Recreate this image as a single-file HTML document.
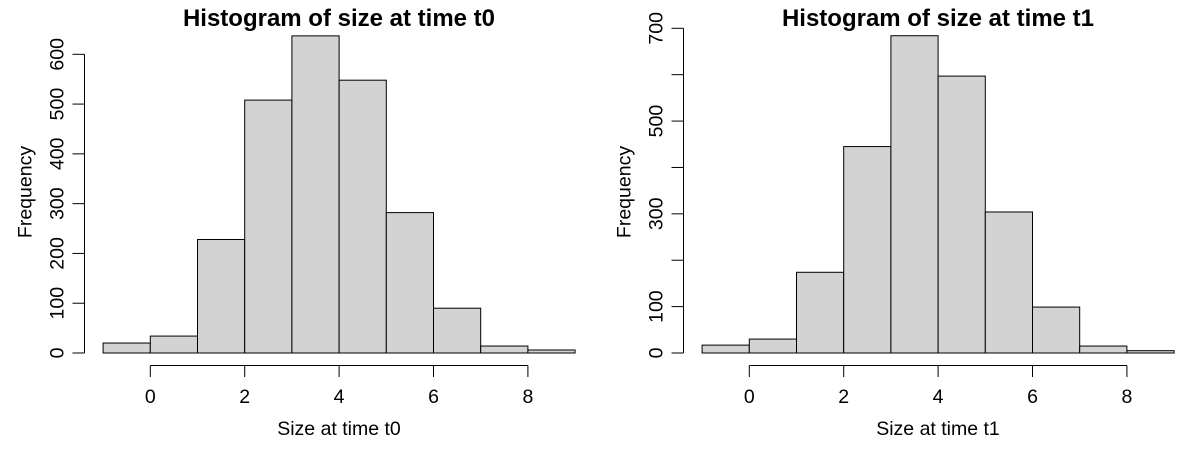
<!DOCTYPE html>
<html><head><meta charset="utf-8"><style>
body{margin:0;background:#fff}
svg{display:block;font-family:"Liberation Sans",Arial,sans-serif}
</style></head><body>
<svg id="c" width="1200" height="450"></svg>
<script>
const breaks=[-1,0,1,2,3,4,5,6,7,8,9];
const countsT0=[20,34,228,508,637,548,282,90,14,6];
const countsT1=[17,30,174,445,684,597,304,99,15,5];
const xTicks=[0,2,4,6,8];
const yTicksT0=[0,100,200,300,400,500,600];
const yLabelsT0=["0","100","200","300","400","500","600"];
const yTicksT1=[0,100,200,300,400,500,600,700];
const yLabelsT1=["0","100","","300","","500","","700"];
const svg=document.getElementById('c');
const NS='http://www.w3.org/2000/svg';
function mk(t,a,p){const e=document.createElementNS(NS,t);for(const k in a)e.setAttribute(k,a[k]);(p||svg).appendChild(e);return e;}
function panel(o){
  const g=mk('g',{});
  
  
  const X=v=>o.x0+v*47.2, Y=v=>353-v*o.sy;
  o.counts.forEach((c,i)=>{
    const r=mk('rect',{x:X(breaks[i]),y:Y(c),width:X(breaks[i+1])-X(breaks[i]),height:Y(0)-Y(c),fill:'#d3d3d3',stroke:'#000','stroke-width':1},g);
    
    
  });
  const xa=mk('g',{},g);
  
  
  mk('line',{x1:X(xTicks[0]),x2:X(xTicks[xTicks.length-1]),y1:365.5,y2:365.5,stroke:'#000'},xa);
  xTicks.forEach(t=>{
    mk('line',{x1:X(t),x2:X(t),y1:365.5,y2:377,stroke:'#000'},xa);
    const tx=mk('text',{x:X(t),y:403,'text-anchor':'middle','font-size':19.5},xa);tx.textContent=t;
    
    
  });
  const ya=mk('g',{},g);
  
  
  mk('line',{x1:o.ax,x2:o.ax,y1:Y(o.yt[0]),y2:Y(o.yt[o.yt.length-1]),stroke:'#000'},ya);
  o.yt.forEach((t,i)=>{
    mk('line',{x1:o.ax-12,x2:o.ax,y1:Y(t),y2:Y(t),stroke:'#000'},ya);
    if(o.yl[i]){const tx=mk('text',{x:0,y:0,'text-anchor':'middle','font-size':19.5,transform:`translate(${o.ax-21},${Y(t)}) rotate(-90)`},ya);tx.textContent=o.yl[i];
    
    }
  });
  const ti=mk('text',{x:o.cx,y:26,'text-anchor':'middle','font-size':24,'font-weight':'bold'},g);ti.textContent=o.title;
  
  
  const xl=mk('text',{x:o.cx,y:435,'text-anchor':'middle','font-size':19.5},g);xl.textContent=o.xlab;
  
  
  const yl=mk('text',{x:0,y:0,'text-anchor':'middle','font-size':19.5,transform:`translate(${o.ax-53},192) rotate(-90)`},g);yl.textContent='Frequency';
  
  
}
panel({name:'histogram-t0',x0:150.3,sy:298.7/600,counts:countsT0,ax:84.5,yt:yTicksT0,yl:yLabelsT0,cx:339,title:'Histogram of size at time t0',xlab:'Size at time t0'});
panel({name:'histogram-t1',x0:749.3,sy:324.7/700,counts:countsT1,ax:683.5,yt:yTicksT1,yl:yLabelsT1,cx:938,title:'Histogram of size at time t1',xlab:'Size at time t1'});
</script>
</body></html>
